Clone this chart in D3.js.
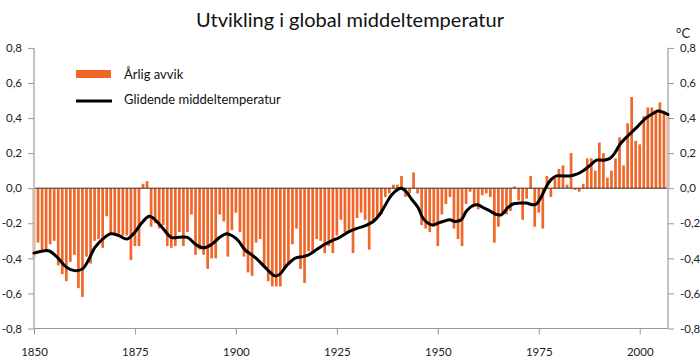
<!DOCTYPE html>
<html><head><meta charset="utf-8">
<script src="https://cdnjs.cloudflare.com/ajax/libs/d3/7.8.5/d3.min.js"></script>
<style>html,body{margin:0;padding:0;background:#fff;}svg{display:block;}</style>
</head><body>
<svg id="c" width="700" height="360"></svg>
<script>
const title = "Utvikling i global middeltemperatur";
const unitLabel = "°C";
const legendLabels = ["Årlig avvik", "Glidende middeltemperatur"];
const firstYear = 1850;
const lastYear = 2007;
const annualAnomaly = [
 -0.40,-0.31,-0.35,-0.35,-0.32,-0.30,-0.44,-0.49,-0.53,-0.42,
 -0.38,-0.57,-0.62,-0.39,-0.43,-0.30,-0.29,-0.34,-0.16,-0.26,
 -0.26,-0.26,-0.27,-0.27,-0.41,-0.33,-0.33,0.025,0.04,-0.22,
 -0.20,-0.23,-0.21,-0.33,-0.34,-0.33,-0.25,-0.33,-0.25,-0.15,
 -0.38,-0.35,-0.38,-0.46,-0.40,-0.40,-0.15,-0.19,-0.39,-0.24,
 -0.14,-0.25,-0.39,-0.48,-0.50,-0.31,-0.29,-0.45,-0.53,-0.56,
 -0.56,-0.56,-0.46,-0.44,-0.32,-0.23,-0.46,-0.54,-0.36,-0.37,
 -0.29,-0.30,-0.37,-0.33,-0.37,-0.27,-0.18,-0.25,-0.25,-0.37,
 -0.17,-0.14,-0.18,-0.35,-0.20,-0.16,-0.15,-0.05,-0.03,0.02,
 0.02,0.07,-0.05,-0.03,0.09,-0.03,-0.21,-0.23,-0.25,-0.22,
 -0.33,-0.15,-0.09,-0.05,-0.23,-0.29,-0.33,-0.09,-0.02,-0.09,
 -0.12,-0.04,-0.03,-0.05,-0.31,-0.22,-0.14,-0.15,-0.13,0.01,
 -0.07,-0.18,-0.06,0.07,-0.22,-0.14,-0.23,0.07,-0.05,0.06,
 0.11,0.13,0.02,0.20,-0.01,-0.02,0.025,0.17,0.17,0.10,
 0.26,0.20,0.06,0.10,0.17,0.29,0.13,0.37,0.52,0.27,
 0.25,0.41,0.46,0.46,0.44,0.49,0.44,0.41
];
const smoothYears = [1850,1853,1854,1856,1858,1860,1862,1863.5,1865,1867,1869,1871,1873,1875,1876.6,1878.5,1879.5,1881.6,1884,1886,1888,1890,1892,1894,1896,1897.7,1899,1900.6,1902.2,1903.9,1905.5,1907.6,1909.7,1910.9,1912.6,1914.6,1916.7,1918,1920,1922,1923.7,1925.7,1927.8,1929.9,1931.9,1934,1935.6,1936.9,1938.5,1940.2,1941,1942.2,1943.4,1945.1,1946.3,1947.6,1948.8,1950,1951.3,1953,1954.2,1955.8,1957.1,1958.7,1960,1961.2,1962.9,1964.5,1965.8,1967.4,1968.6,1970.3,1971.9,1973.6,1974.4,1975.6,1976.9,1978.1,1979.4,1981,1982.7,1984.4,1986,1987.7,1989.3,1991,1992.6,1993.8,1995.1,1996.9,1999.4,2001.5,2003.6,2004.4,2005.6,2007];
const smoothValues = [-0.37,-0.355,-0.36,-0.40,-0.45,-0.47,-0.46,-0.41,-0.34,-0.29,-0.26,-0.27,-0.29,-0.25,-0.20,-0.16,-0.17,-0.22,-0.28,-0.28,-0.28,-0.32,-0.34,-0.32,-0.28,-0.26,-0.27,-0.30,-0.35,-0.38,-0.41,-0.46,-0.50,-0.49,-0.44,-0.40,-0.39,-0.38,-0.35,-0.32,-0.30,-0.28,-0.25,-0.23,-0.215,-0.19,-0.15,-0.10,-0.04,-0.005,0.0,-0.02,-0.06,-0.11,-0.17,-0.20,-0.21,-0.20,-0.19,-0.18,-0.19,-0.18,-0.13,-0.10,-0.095,-0.11,-0.13,-0.15,-0.15,-0.11,-0.09,-0.085,-0.085,-0.095,-0.09,-0.05,0.01,0.05,0.07,0.07,0.07,0.08,0.10,0.13,0.16,0.16,0.17,0.20,0.25,0.295,0.35,0.40,0.43,0.44,0.435,0.42];
const yTicks = [-0.8,-0.6,-0.4,-0.2,0,0.2,0.4,0.6,0.8];
const xTicks = [1850,1875,1900,1925,1950,1975,2000];

const svg = d3.select("#c");
const FONT = "Lato, 'Open Sans', sans-serif";
const L = 34, R = 668;
const x = d3.scaleLinear().domain([firstYear, lastYear]).range([L, R]);
const y = d3.scaleLinear().domain([-0.8, 0.8]).range([328.5, 47.9]);
const fmt = v => d3.format(".1f")(v).replace(".", ",").replace("−","-");

// bars
const bars = annualAnomaly.map((v,i)=>({year:firstYear+i, v}));
svg.append("g").selectAll("rect").data(bars).join("rect")
  .attr("x", d => x(d.year) - 1.35)
  .attr("width", 2.7)
  .attr("y", d => Math.min(y(d.v), y(0)))
  .attr("height", d => Math.abs(y(d.v) - y(0)))
  .attr("fill", "#f0672a");

// zero line
svg.append("line").attr("x1", L).attr("x2", R).attr("y1", y(0)).attr("y2", y(0))
  .attr("stroke", "#3a2a20").attr("stroke-width", 1);

// axes
const leftAxis = d3.axisLeft(y).tickValues(yTicks).tickSize(6).tickFormat(fmt);
const gl = svg.append("g").attr("transform", `translate(${L},0)`).call(leftAxis);
const rightAxis = d3.axisRight(y).tickValues(yTicks).tickSize(6).tickFormat(fmt);
const gr = svg.append("g").attr("transform", `translate(${R},0)`).call(rightAxis);
const bottomAxis = d3.axisBottom(x).tickValues(xTicks).tickSize(6).tickFormat(d3.format("d"));
const gb = svg.append("g").attr("transform", `translate(0,${y(-0.8)})`).call(bottomAxis);
[gl, gr, gb].forEach(g => {
  g.selectAll("text").attr("font-family", FONT).attr("font-size", 11.5).attr("fill", "#222");
  g.selectAll(".tick line").attr("stroke", "#999");
});
gl.select(".domain").attr("stroke", "#c4c4c4").attr("stroke-width", 2).attr("d", `M0,${y(0.8)}V${y(-0.8)}`);
gr.select(".domain").attr("stroke", "#c4c4c4").attr("stroke-width", 2).attr("d", `M0,${y(0.8)}V${y(-0.8)}`);
gb.select(".domain").attr("stroke", "#999").attr("stroke-width", 1).attr("d", `M${L},0H${R}`);
gl.selectAll("text").attr("x", -12);
gr.selectAll("text").attr("x", 12);
gb.selectAll("text").attr("y", 19);

// smoothed line
const pts = smoothYears.map((yr,i)=>[yr, smoothValues[i]]);
svg.append("path").datum(pts)
  .attr("d", d3.line().x(d=>x(d[0])).y(d=>y(d[1])).curve(d3.curveCatmullRom.alpha(0.5)))
  .attr("fill", "none").attr("stroke", "#000").attr("stroke-width", 3)
  .attr("stroke-linejoin", "round").attr("stroke-linecap", "round");

// title
svg.append("text").attr("x", 350).attr("y", 27).attr("text-anchor", "middle")
  .attr("font-family", FONT).attr("font-size", 20).attr("fill", "#111").text(title);
svg.append("text").attr("x", 676).attr("y", 38)
  .attr("font-family", FONT).attr("font-size", 13).attr("fill", "#222").text(unitLabel);

// legend
const lg = svg.append("g");
lg.append("rect").attr("x", 76).attr("y", 70).attr("width", 35).attr("height", 8).attr("fill", "#f0672a");
lg.append("text").attr("x", 124).attr("y", 79).attr("font-family", FONT).attr("font-size", 13).attr("fill", "#111").text(legendLabels[0]);
lg.append("line").attr("x1", 76).attr("x2", 112).attr("y1", 101).attr("y2", 101).attr("stroke", "#000").attr("stroke-width", 3);
lg.append("text").attr("x", 124).attr("y", 104).attr("font-family", FONT).attr("font-size", 13).attr("fill", "#111").text(legendLabels[1]);
</script>
</body></html>
